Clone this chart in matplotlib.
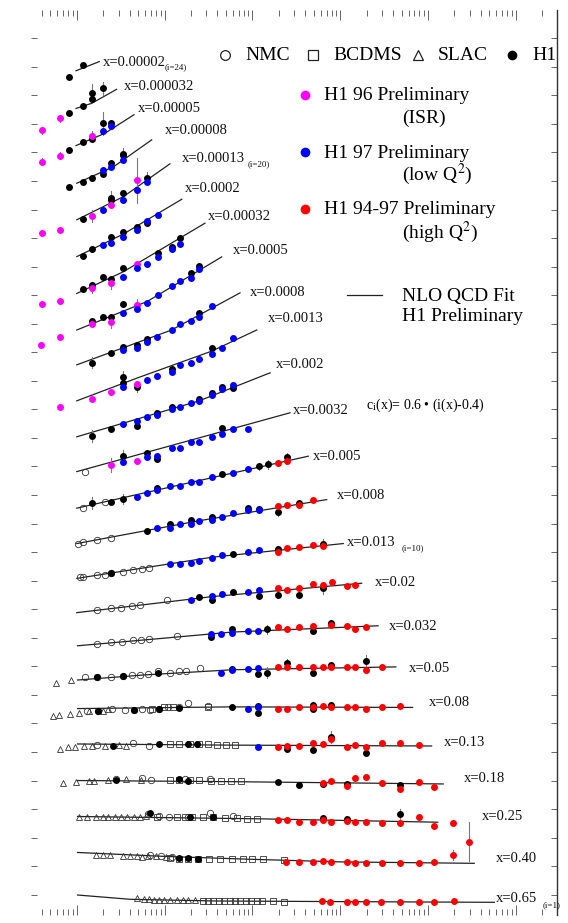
import numpy as np
import matplotlib
matplotlib.use('Agg')
import matplotlib.pyplot as plt
from matplotlib.lines import Line2D

plt.rcParams['font.family'] = ['Liberation Serif', 'DejaVu Serif']
plt.rcParams['mathtext.fontset'] = 'stix'

# ---------------- data ----------------
# bin index i -> x value label ; plotted value = F2 + c_i,  c_i = 0.6*(i-0.4)
X_LABELS = {24: '0.00002', 23: '0.000032', 22: '0.00005', 21: '0.00008', 20: '0.00013',
            19: '0.0002', 18: '0.00032', 17: '0.0005', 16: '0.0008', 15: '0.0013',
            14: '0.002', 13: '0.0032', 12: '0.005', 11: '0.008', 10: '0.013', 9: '0.02',
            8: '0.032', 7: '0.05', 6: '0.08', 5: '0.13', 4: '0.18', 3: '0.25', 2: '0.40', 1: '0.65'}

# NLO QCD fit curve (Q2, F2)
FIT = {
    24: ([0.98, 1.80], [0.77, 0.93]),
    23: ([0.98, 1.48, 2.84], [0.71, 0.80, 1.045]),
    22: ([0.98, 2.09, 4.48], [0.66, 0.875, 1.20]),
    21: ([1.0, 2.63, 7.13], [0.60, 0.89, 1.36]),
    20: ([1.0, 3.39, 11.5], [0.56, 0.965, 1.54]),
    19: ([1.0, 3.39, 15.7], [0.515, 0.91, 1.52]),
    18: ([1.0, 3.39, 28.8], [0.47, 0.85, 1.70]),
    17: ([1.0, 6.35, 44.7], [0.43, 0.93, 1.71]),
    16: ([1.0, 12.0, 72.3], [0.42, 1.03, 1.68]),
    15: ([1.0, 4.89, 34.4, 112], [0.39, 0.79, 1.26, 1.63]),
    14: ([1.0, 24.8, 159], [0.36, 0.99, 1.48]),
    13: ([1.0, 19.8, 268], [0.35, 0.90, 1.38]),
    12: ([1.0, 19.8, 433], [0.31, 0.76, 1.22]),
    11: ([1.0, 24.8, 702], [0.29, 0.69, 1.06]),
    10: ([1.0, 34.4, 1084], [0.28, 0.65, 0.89]),
    9: ([1.0, 34.4, 1757], [0.28, 0.56, 0.795]),
    8: ([1.02, 6.7, 58.7, 2700], [0.30, 0.41, 0.54, 0.65]),
    7: ([1.02, 6.0, 58.7, 4300], [0.30, 0.39, 0.48, 0.53]),
    6: ([1.02, 58.7, 6680], [0.40, 0.43, 0.42]),
    5: ([1.02, 58.7, 11000], [0.38, 0.36, 0.345]),
    4: ([1.02, 58.7, 14900], [0.34, 0.32, 0.28]),
    3: ([1.02, 114, 12900], [0.31, 0.27, 0.21]),
    2: ([1.02, 10.4, 100, 1000, 33600], [0.28, 0.21, 0.16, 0.115, 0.09]),
    1: ([1.02, 4.05, 39.5, 57000], [0.135, 0.06, 0.03, 0.007]),
}

NMC = {
    13: ([1.24], [0.35]),
    12: ([1.17, 2.09], [0.31, 0.42]),
    11: ([1.04, 1.17, 1.69, 2.43], [0.29, 0.31, 0.36, 0.39]),
    10: ([1.09, 1.19, 1.69, 2.09, 2.43, 3.39, 4.33, 5.48, 6.70],
         [0.31, 0.31, 0.34, 0.34, 0.38, 0.40, 0.42, 0.44, 0.46]),
    9: ([1.71, 2.43, 3.16, 4.22, 5.25, 10.6], [0.33, 0.36, 0.37, 0.40, 0.41, 0.51]),
    8: ([1.69, 2.47, 3.28, 4.37, 5.37, 6.7, 13.9], [0.33, 0.37, 0.37, 0.40, 0.40, 0.41, 0.47]),
    7: ([1.23, 1.69, 2.47, 3.34, 4.24, 5.26, 6.5, 8.4, 11.5, 14.6, 17.7, 25],
        [0.35, 0.35, 0.36, 0.37, 0.39, 0.39, 0.41, 0.45, 0.43, 0.45, 0.46, 0.51]),
    6: ([1.29, 1.75, 2.51, 3.5, 4.44, 5.5, 6.8, 8.6, 10.9, 14.6, 18.4, 31.2],
        [0.35, 0.36, 0.40, 0.37, 0.37, 0.39, 0.37, 0.40, 0.42, 0.42, 0.49, 0.44]),
    5: ([1.72, 4.37, 6.6], [0.36, 0.39, 0.345]),
    4: ([2.81, 5.5, 7.0, 17.2, 33.3], [0.36, 0.38, 0.35, 0.36, 0.36]),
    3: ([6.5, 8.6, 11.3, 18.4, 33.3, 60.4], [0.36, 0.32, 0.30, 0.31, 0.37, 0.32]),
    2: ([6.8, 9.0, 12.0], [0.235, 0.21, 0.20]),
}

BCDMS = {
    6: ([7.1, 9.9, 12.4, 31.2], [0.39, 0.42, 0.42, 0.42]),
    5: ([11.5, 14.6, 19.4, 24.6, 31.2, 39.5, 50, 63.5], [0.38, 0.38, 0.38, 0.38, 0.38, 0.36, 0.36, 0.36]),
    4: ([11.5, 14.6, 19.4, 24.6, 34.2, 44.3, 57.5, 73.3], [0.35, 0.35, 0.35, 0.35, 0.34, 0.34, 0.34, 0.34]),
    3: ([8.2, 13.9, 17.2, 20.3, 27.1, 35.9, 48.5, 66.3, 86, 114],
        [0.31, 0.31, 0.31, 0.31, 0.31, 0.30, 0.29, 0.28, 0.27, 0.27]),
    2: ([11.5, 14.6, 18.4, 24, 32, 42.6, 58.7, 78.4, 100, 133, 229],
        [0.18, 0.17, 0.17, 0.17, 0.17, 0.17, 0.17, 0.16, 0.16, 0.16, 0.15]),
    1: ([27.1, 31.2, 35.9, 41.4, 47.6, 55, 63.5, 73, 84.3, 97, 112, 129, 172, 229],
        [0.035, 0.033, 0.032, 0.03, 0.03, 0.028, 0.028, 0.027, 0.026, 0.025, 0.024, 0.023, 0.022, 0.02]),
}

SLAC = {
    7: ([0.58, 0.87], [0.25, 0.30]),
    6: ([0.54, 0.63, 0.84, 1.07, 1.36, 1.98, 2.28], [0.27, 0.29, 0.30, 0.33, 0.35, 0.36, 0.39]),
    5: ([0.65, 0.80, 0.95, 1.20, 1.49, 2.08, 3.04, 3.68], [0.30, 0.32, 0.33, 0.345, 0.345, 0.345, 0.36, 0.345]),
    4: ([0.70, 0.97, 1.36, 1.59, 2.24, 3.65, 5.37], [0.30, 0.32, 0.34, 0.34, 0.35, 0.36, 0.35]),
    3: ([1.05, 1.29, 1.64, 1.98, 2.28, 2.71, 3.19, 3.74, 4.44, 5.26, 6.2],
        [0.30, 0.31, 0.31, 0.31, 0.31, 0.31, 0.31, 0.31, 0.31, 0.31, 0.32]),
    2: ([1.64, 1.98, 2.40, 3.34, 4.05, 4.89, 5.6, 6.5, 8.0, 10.4],
        [0.24, 0.24, 0.24, 0.225, 0.22, 0.21, 0.20, 0.21, 0.21, 0.20]),
    1: ([4.9, 5.9, 6.6, 7.5, 8.6, 9.9, 11.5, 13.9, 16.0, 18.4, 22.3],
        [0.077, 0.06, 0.06, 0.055, 0.055, 0.05, 0.05, 0.045, 0.045, 0.045, 0.04]),
}

H1 = {
    24: ([0.82, 1.19], [0.66, 0.87]),
    23: ([0.82, 1.19, 1.48, 1.48, 1.97], [0.625, 0.76, 0.87, 0.975, 1.06]),
    22: ([0.82, 1.19, 1.48, 1.97, 2.45], [0.58, 0.72, 0.77, 1.05, 1.05]),
    21: ([0.82, 1.19, 1.48, 1.97, 2.43, 3.39, 3.39], [0.54, 0.63, 0.70, 0.76, 0.95, 1.09, 1.11]),
    20: ([1.19, 2.43, 2.43, 3.39, 6.35], [0.57, 0.91, 0.95, 1.03, 1.29]),
    19: ([1.19, 1.48, 2.43, 3.39, 4.89, 6.35], [0.53, 0.655, 0.855, 0.95, 1.04, 1.10]),
    18: ([1.19, 1.48, 1.97, 2.43, 3.39, 8.48, 12.0, 15.0], [0.54, 0.62, 0.75, 0.72, 0.91, 1.17, 1.29, 1.44]),
    17: ([1.48, 1.97, 2.43, 3.39, 19.8, 24.8], [0.59, 0.65, 0.65, 0.88, 1.42, 1.55]),
    16: ([1.48, 2.43, 3.39, 4.89, 6.35, 24.8], [0.46, 0.62, 0.74, 0.77, 0.87, 1.32]),
    15: ([3.39, 3.39, 4.89, 12.0, 34.4], [0.70, 0.80, 0.63, 0.94, 1.31]),
    14: ([1.48, 2.43, 4.89, 8.26, 12.0, 24.8, 34.4, 44.7, 59.7],
         [0.375, 0.49, 0.54, 0.78, 0.88, 1.02, 1.13, 1.24, 1.21]),
    13: ([3.39, 6.35, 8.26, 44.7], [0.62, 0.67, 0.57, 1.11]),
    12: ([1.48, 2.43, 3.39, 8.26, 44.7, 120, 152, 246], [0.40, 0.41, 0.47, 0.66, 0.90, 1.04, 1.08, 1.20]),
    11: ([6.35, 11.5, 19.8, 34.4, 89.8, 120, 197, 342], [0.51, 0.63, 0.70, 0.75, 0.91, 0.89, 0.85, 1.005]),
    10: ([2.43, 59.7, 197, 643], [0.37, 0.71, 0.79, 0.89]),
    9: ([24.8, 34.4, 59.7, 120, 197, 342, 643], [0.56, 0.51, 0.64, 0.57, 0.59, 0.59, 0.71]),
    8: ([34.2, 58.7, 146, 494, 793], [0.45, 0.59, 0.59, 0.55, 0.70]),
    7: ([1.69, 3.34, 8.4, 58.7, 117, 146, 245, 494, 793, 1980],
        [0.35, 0.37, 0.42, 0.50, 0.40, 0.43, 0.59, 0.43, 0.56, 0.64]),
    6: ([1.75, 4.44, 8.6, 14.6, 58.7, 117, 117, 494, 494, 793],
        [0.35, 0.37, 0.39, 0.41, 0.43, 0.33, 0.44, 0.39, 0.46, 0.46]),
    5: ([2.56, 8.6, 18.4, 23.4, 245, 494, 793, 1980], [0.345, 0.38, 0.38, 0.38, 0.30, 0.275, 0.50, 0.23]),
    4: ([2.81, 14.6, 18.4, 194, 339, 631, 1180, 4860], [0.35, 0.36, 0.34, 0.31, 0.26, 0.28, 0.28, 0.26]),
    3: ([6.8, 19.4, 35.9, 631, 1180, 4860], [0.365, 0.31, 0.31, 0.28, 0.26, 0.35]),
    2: ([14.6, 18.4, 24], [0.18, 0.18, 0.17]),
}

H1_96_ISR = {
    23: ([0.40, 0.64], [0.33, 0.54]),
    22: ([0.40, 0.64, 1.48], [0.38, 0.48, 0.82]),
    20: ([0.40, 0.64, 1.48, 2.43, 4.89], [0.33, 0.38, 0.63, 0.82, 1.25]),
    18: ([0.40, 0.64, 1.48, 2.43, 4.89], [0.28, 0.33, 0.57, 0.65, 0.99]),
    17: ([0.39, 0.64, 1.48, 2.43, 4.89], [0.17, 0.31, 0.54, 0.57, 0.87]),
    15: ([0.64, 1.48, 2.43, 4.89], [0.29, 0.43, 0.54, 0.68]),
    13: ([2.43, 4.89], [0.47, 0.535]),
}

H1_97_LOWQ2 = {
    22: ([1.97, 2.45], [0.92, 1.00]),
    21: ([1.97, 2.43, 3.39], [0.84, 0.89, 1.01]),
    20: ([1.97, 3.39, 4.89, 6.35], [0.73, 0.91, 1.09, 1.22]),
    19: ([1.97, 2.43, 3.39, 4.89, 6.35, 8.48], [0.72, 0.75, 0.855, 0.98, 1.145, 1.245]),
    18: ([3.39, 4.89, 6.35, 8.48, 12.0, 15.0], [0.765, 0.91, 0.99, 1.10, 1.24, 1.34]),
    17: ([3.39, 4.89, 6.35, 8.48, 12.0, 15.0, 19.8, 24.8], [0.72, 0.79, 0.90, 1.04, 1.20, 1.29, 1.34, 1.49]),
    16: ([3.39, 4.89, 6.35, 8.26, 12.0, 15.0, 19.8, 24.8, 34.4],
         [0.68, 0.71, 0.82, 0.91, 1.03, 1.13, 1.19, 1.26, 1.45]),
    15: ([3.39, 6.35, 8.26, 12.0, 15.0, 19.8, 24.8, 34.4, 44.7, 59.7],
         [0.63, 0.75, 0.83, 0.90, 1.02, 1.05, 1.12, 1.21, 1.31, 1.49]),
    14: ([3.39, 4.89, 6.35, 8.26, 12.0, 15.0, 19.8, 24.8, 34.4, 44.7, 59.7],
         [0.58, 0.64, 0.70, 0.74, 0.85, 0.88, 0.95, 0.99, 1.09, 1.19, 1.27]),
    13: ([3.39, 6.35, 8.26, 12.0, 15.0, 19.8, 24.8, 34.4, 44.7, 59.7, 89.8],
         [0.52, 0.61, 0.62, 0.76, 0.76, 0.86, 0.87, 0.95, 1.01, 1.09, 1.09]),
    12: ([4.89, 6.35, 8.26, 11.5, 15.0, 19.8, 24.8, 34.4, 59.7, 89.8],
         [0.51, 0.57, 0.62, 0.69, 0.70, 0.76, 0.77, 0.85, 0.93, 0.99]),
    11: ([8.26, 11.5, 15.0, 19.8, 24.8, 34.4, 44.7, 59.7, 89.8, 120],
         [0.56, 0.57, 0.64, 0.64, 0.69, 0.71, 0.75, 0.83, 0.88, 0.87]),
    10: ([11.5, 15.0, 19.8, 24.8, 34.4, 44.7, 89.8, 120], [0.53, 0.54, 0.55, 0.59, 0.63, 0.69, 0.75, 0.78]),
    9: ([19.8, 34.4, 44.7, 89.8, 120], [0.51, 0.57, 0.61, 0.65, 0.67]),
    8: ([34.2, 44.3, 58.7, 88.7, 117], [0.51, 0.51, 0.52, 0.56, 0.56]),
    7: ([44.3, 58.7, 88.7, 117], [0.42, 0.48, 0.49, 0.51]),
    6: ([88.7, 117], [0.39, 0.42]),
    5: ([117], [0.32]),
}

H1_9497_HIGHQ2 = {
    12: ([197, 246], [1.10, 1.13]),
    11: ([197, 246, 342, 494], [0.94, 0.97, 0.97, 1.05]),
    10: ([197, 246, 342, 494, 643], [0.75, 0.81, 0.83, 0.87, 0.84]),
    9: ([197, 246, 342, 494, 643, 800, 1186, 1473], [0.71, 0.68, 0.72, 0.78, 0.76, 0.81, 0.75, 0.76]),
    8: ([194, 245, 339, 494, 793, 1180, 1460, 1980], [0.62, 0.59, 0.62, 0.65, 0.66, 0.65, 0.59, 0.63]),
    7: ([194, 245, 339, 494, 631, 793, 1180, 1460, 1980, 2960],
        [0.53, 0.53, 0.52, 0.52, 0.52, 0.53, 0.53, 0.53, 0.48, 0.53]),
    6: ([194, 245, 339, 494, 631, 793, 1180, 1460, 1980, 2960, 4860],
        [0.39, 0.40, 0.42, 0.42, 0.44, 0.42, 0.42, 0.42, 0.39, 0.42, 0.44]),
    5: ([194, 245, 339, 494, 631, 793, 1180, 1460, 1980, 2960, 4860, 7980],
        [0.33, 0.345, 0.345, 0.39, 0.38, 0.47, 0.33, 0.36, 0.32, 0.40, 0.40, 0.36]),
    4: ([631, 793, 1180, 1460, 1980, 2960, 4860, 7980, 11600],
        [0.30, 0.34, 0.25, 0.38, 0.40, 0.30, 0.20, 0.32, 0.22]),
    3: ([194, 245, 339, 494, 631, 793, 1180, 1460, 1980, 2960, 4860, 7980, 11600, 19300],
        [0.25, 0.24, 0.22, 0.22, 0.25, 0.22, 0.23, 0.22, 0.22, 0.19, 0.20, 0.31, 0.14, 0.20]),
    2: ([240, 339, 494, 631, 793, 1180, 1460, 1980, 2960, 4860, 7980, 11600, 19300, 29500],
        [0.12, 0.12, 0.12, 0.13, 0.12, 0.11, 0.09, 0.10, 0.10, 0.10, 0.09, 0.12, 0.235, 0.47]),
    1: ([626, 763, 1180, 1460, 1960, 2920, 4860, 7890, 11600, 19600],
        [0.025, 0.02, 0.02, 0.018, 0.018, 0.018, 0.02, 0.018, 0.02, 0.035]),
}

# visible error bars: (i, Q2, F2, error)
ERRORS = [(23, 1.48, 0.975, 0.17), (23, 1.97, 1.06, 0.11), (23, 0.40, 0.33, 0.06), (23, 0.64, 0.54, 0.06),
          (22, 1.48, 0.82, 0.10), (22, 1.97, 1.05, 0.20), (22, 0.40, 0.38, 0.06), (22, 0.64, 0.48, 0.06),
          (21, 3.39, 1.11, 0.10), (20, 4.89, 1.25, 0.39), (20, 2.43, 0.95, 0.12), (20, 6.35, 1.29, 0.10),
          (20, 1.48, 0.63, 0.10), (18, 1.48, 0.57, 0.10), (18, 2.43, 0.65, 0.10), (17, 4.89, 0.87, 0.10),
          (17, 2.43, 0.57, 0.10), (16, 1.48, 0.46, 0.10), (15, 3.39, 0.80, 0.12), (15, 4.89, 0.63, 0.08),
          (14, 1.48, 0.375, 0.10), (13, 2.43, 0.47, 0.12), (13, 3.39, 0.62, 0.10), (12, 1.48, 0.40, 0.10),
          (12, 3.39, 0.47, 0.08), (12, 152, 1.08, 0.08), (12, 246, 1.20, 0.08), (12, 120, 1.04, 0.06),
          (11, 197, 0.85, 0.08), (11, 120, 0.89, 0.06), (11, 342, 1.005, 0.05),
          (10, 643, 0.89, 0.08), (10, 197, 0.79, 0.05), (9, 643, 0.71, 0.10), (9, 34.4, 0.51, 0.05),
          (9, 342, 0.59, 0.05), (9, 197, 0.59, 0.05), (8, 146, 0.59, 0.08), (8, 494, 0.55, 0.05),
          (8, 793, 0.70, 0.05), (7, 146, 0.43, 0.10), (7, 1980, 0.64, 0.10), (7, 245, 0.59, 0.08),
          (6, 494, 0.46, 0.05), (6, 793, 0.46, 0.06), (5, 793, 0.50, 0.10), (4, 4860, 0.26, 0.05),
          (4, 11600, 0.22, 0.05), (3, 631, 0.28, 0.05), (3, 1180, 0.26, 0.05), (3, 4860, 0.35, 0.10),
          (3, 11600, 0.14, 0.05), (3, 19300, 0.20, 0.05), (2, 19300, 0.235, 0.08), (2, 29500, 0.47, 0.34)]

SUB_LABELS = {24: '(i=24)', 20: '(i=20)', 10: '(i=10)', 1: '(i=1)'}

# ---------------- layout (pixel positions of the text) ----------------
W, H = 568, 923
LABEL_PX = {24: (103, 62), 23: (124, 86), 22: (138, 108), 21: (165, 131), 20: (182, 159),
            19: (185, 188), 18: (208, 217), 17: (233, 250), 16: (250, 292), 15: (268, 318),
            14: (276, 365), 13: (293, 411), 12: (313, 457), 11: (337, 496), 10: (347, 542),
            9: (375, 583), 8: (389, 627), 7: (409, 668), 6: (429, 702), 5: (444, 743),
            4: (464, 779), 3: (482, 817), 2: (496, 859), 1: (496, 899)}
SUB_PX = {24: (165, 67), 20: (248, 164), 10: (402, 548), 1: (543, 905)}


def offset(i):
    return 0.6 * (i - 0.4)


fig = plt.figure(figsize=(W / 100, H / 100), dpi=100)
ax = fig.add_axes([31 / W, 1 - 915 / H, 525.7 / W, 905 / H])
ax.set_xscale('log')
ax.set_xlim(0.3008, 2.923e5)
ax.set_ylim(0.145, 15.994)

for s in ['left', 'top', 'bottom']:
    ax.spines[s].set_visible(False)
ax.spines['right'].set_color('#333333')
ax.spines['right'].set_linewidth(1.0)

ax.set_yticks(np.arange(0.5, 15.51, 0.5))
ax.tick_params(which='both', direction='in', top=True, right=True, bottom=True, left=True,
               labelbottom=False, labelleft=False, color='#666666', width=0.7)
ax.tick_params(axis='x', which='major', length=7.5)
ax.tick_params(axis='x', which='minor', length=4.5)
ax.tick_params(axis='y', which='major', length=4.0)
ax.yaxis.set_minor_locator(matplotlib.ticker.NullLocator())

# fit curves
for i, (q, f) in FIT.items():
    ax.plot(q, np.array(f) + offset(i), color='#222222', lw=0.9, zorder=2)

# error bars
for (i, q, f, e) in ERRORS:
    y = f + offset(i)
    ax.plot([q, q], [y - e, y + e], color='#7a7a7a', lw=0.8, zorder=3)


def draw(dataset, **kw):
    for i, (q, f) in dataset.items():
        ax.plot(q, np.array(f) + offset(i), linestyle='none', clip_on=False, **kw)


draw(SLAC, marker='^', ms=4.2, mfc='none', mec='#333333', mew=0.6, zorder=4)
draw(BCDMS, marker='s', ms=4.0, mfc='none', mec='#333333', mew=0.6, zorder=4)
draw(NMC, marker='o', ms=4.6, mfc='none', mec='#333333', mew=0.6, zorder=4)
draw(H1, marker='o', ms=5.0, mfc='black', mec='black', mew=0, zorder=5)
draw(H1_96_ISR, marker='o', ms=5.0, mfc='#ff00ff', mec='#ff00ff', mew=0, zorder=6)
draw(H1_97_LOWQ2, marker='o', ms=5.0, mfc='#0000ff', mec='#0000ff', mew=0, zorder=6)
draw(H1_9497_HIGHQ2, marker='o', ms=5.0, mfc='#ff0000', mec='#ff0000', mew=0, zorder=6)


def fx(px):
    return px / W


def fy(py):
    return 1 - py / H


for i, lab in X_LABELS.items():
    px, py = LABEL_PX[i]
    fig.text(fx(px), fy(py), 'x=' + lab, ha='left', va='center', fontsize=10.5, color='#111111')
for i, lab in SUB_LABELS.items():
    px, py = SUB_PX[i]
    fig.text(fx(px), fy(py), lab, ha='left', va='center', fontsize=6.5, color='#111111')

# legend
def fig_marker(px, py, **kw):
    fig.add_artist(Line2D([fx(px)], [fy(py)], transform=fig.transFigure, linestyle='none', **kw))


LEG_FS = 14
fig_marker(225, 55, marker='o', ms=7, mfc='none', mec='#222222', mew=0.9)
fig.text(fx(245), fy(55), 'NMC', ha='left', va='center', fontsize=LEG_FS)
fig_marker(313, 55, marker='s', ms=6.5, mfc='none', mec='#222222', mew=0.9)
fig.text(fx(333), fy(55), 'BCDMS', ha='left', va='center', fontsize=LEG_FS)
fig_marker(418, 55, marker='^', ms=6.5, mfc='none', mec='#222222', mew=0.9)
fig.text(fx(438), fy(55), 'SLAC', ha='left', va='center', fontsize=LEG_FS)
fig_marker(512, 55, marker='o', ms=7, mfc='black', mec='black', mew=0)
fig.text(fx(532), fy(55), 'H1', ha='left', va='center', fontsize=LEG_FS)

fig_marker(305, 95, marker='o', ms=7, mfc='#ff00ff', mec='#ff00ff', mew=0)
fig.text(fx(324), fy(96), 'H1 96 Preliminary', ha='left', va='center', fontsize=LEG_FS)
fig.text(fx(402), fy(118), '(ISR)', ha='left', va='center', fontsize=LEG_FS)
fig_marker(305, 152, marker='o', ms=7, mfc='#0000ff', mec='#0000ff', mew=0)
fig.text(fx(324), fy(153), 'H1 97 Preliminary', ha='left', va='center', fontsize=LEG_FS)
fig.text(fx(402), fy(174), '(low Q$^2$)', ha='left', va='center', fontsize=LEG_FS)
fig_marker(305, 209, marker='o', ms=7, mfc='#ff0000', mec='#ff0000', mew=0)
fig.text(fx(324), fy(210), 'H1 94-97 Preliminary', ha='left', va='center', fontsize=LEG_FS)
fig.text(fx(402), fy(232), '(high Q$^2$)', ha='left', va='center', fontsize=LEG_FS)

fig.add_artist(Line2D([fx(347), fx(382)], [fy(295), fy(295)], transform=fig.transFigure,
                      color='#222222', lw=0.9))
fig.text(fx(402), fy(296), 'NLO QCD Fit', ha='left', va='center', fontsize=LEG_FS)
fig.text(fx(402), fy(317), 'H1 Preliminary', ha='left', va='center', fontsize=LEG_FS)

fig.text(fx(366), fy(405), 'c$_\\mathregular{i}$(x)= 0.6 \u2022 (i(x)-0.4)', ha='left', va='center',
         fontsize=10)

fig.savefig('out.png', dpi=100, facecolor='white')
